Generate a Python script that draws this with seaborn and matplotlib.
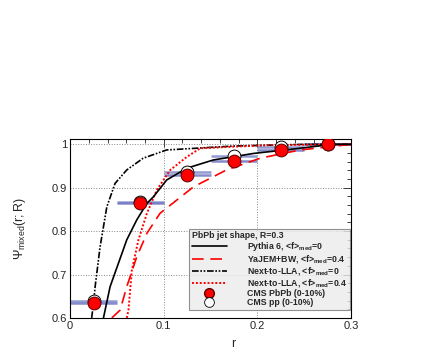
import numpy as np
import pandas as pd
import matplotlib
matplotlib.use("Agg")
import matplotlib.pyplot as plt
import seaborn as sns
from matplotlib.ticker import MultipleLocator
from matplotlib.lines import Line2D

sns.set_style("white")
plt.rcParams["font.family"] = ["Liberation Sans", "DejaVu Sans"]
plt.rcParams["mathtext.fontset"] = "custom"
plt.rcParams["mathtext.rm"] = "Liberation Sans"
plt.rcParams["mathtext.it"] = "Liberation Sans:italic"
plt.rcParams["mathtext.bf"] = "Liberation Sans:bold"

# ---- datos ----
r_bins = [0.025, 0.075, 0.125, 0.175, 0.225, 0.275]
psi_pbpb = [0.635, 0.864, 0.929, 0.962, 0.987, 1.000]
psi_pp = [0.638, 0.866, 0.937, 0.973, 0.993, 1.000]

pythia_r = [0.0356, 0.0427, 0.0516, 0.0605, 0.0712, 0.082, 0.0889, 0.1032, 0.1246, 0.153, 0.196, 0.2456, 0.28, 0.3]
pythia_psi = [0.600, 0.672, 0.726, 0.780, 0.826, 0.864, 0.879, 0.918, 0.945, 0.964, 0.979, 0.991, 1.0, 1.0]

yajem_r = [0.0445, 0.0534, 0.0605, 0.0712, 0.082, 0.096, 0.1317, 0.167, 0.203, 0.2456, 0.3]
yajem_psi = [0.600, 0.618, 0.672, 0.741, 0.795, 0.841, 0.902, 0.941, 0.968, 0.987, 1.0]

nlla0_r = [0.023, 0.025, 0.0267, 0.032, 0.0392, 0.048, 0.0605, 0.078, 0.103, 0.174, 0.25, 0.3]
nlla0_psi = [0.600, 0.634, 0.672, 0.764, 0.856, 0.910, 0.941, 0.968, 0.987, 0.996, 1.0, 1.0]

nlla4_r = [0.0605, 0.0623, 0.0659, 0.073, 0.082, 0.0926, 0.107, 0.1246, 0.139, 0.21, 0.3]
nlla4_psi = [0.600, 0.618, 0.710, 0.780, 0.841, 0.895, 0.941, 0.971, 0.991, 0.998, 1.0]

x_ticks = [0.0, 0.1, 0.2, 0.3]
x_ticklabels = ["0", "0.1", "0.2", "0.3"]
y_ticks = [0.6, 0.7, 0.8, 0.9, 1.0]
y_ticklabels = ["0.6", "0.7", "0.8", "0.9", "1"]

fig = plt.figure(figsize=(4.25, 3.54), dpi=100)
ax = fig.add_axes([0.165, 0.102, 0.661, 0.505])

# bandas horizontales (ancho del bin)
ax.errorbar(r_bins, psi_pp, xerr=0.025, fmt="none", ecolor="#8088cc", elinewidth=1.8, capsize=0, alpha=0.85, zorder=2)
ax.errorbar(r_bins, psi_pbpb, xerr=0.025, fmt="none", ecolor="#7078c4", elinewidth=1.8, capsize=0, alpha=0.85, zorder=2)

curvas = [
    (nlla0_r, nlla0_psi, "black", (0, (4, 1, 1, 1, 1, 1)), 1.2),
    (nlla4_r, nlla4_psi, "red", (0, (1, 1)), 1.4),
    (yajem_r, yajem_psi, "red", (0, (7, 4)), 1.2),
    (pythia_r, pythia_psi, "black", "-", 1.2),
]
for xs, ys, col, ls, lw in curvas:
    df = pd.DataFrame({"r": xs, "psi": ys})
    sns.lineplot(data=df, x="r", y="psi", ax=ax, color=col, linestyle=ls, linewidth=lw, sort=False, zorder=3)

df_pp = pd.DataFrame({"r": r_bins, "psi": psi_pp})
df_pbpb = pd.DataFrame({"r": r_bins, "psi": psi_pbpb})
sns.scatterplot(data=df_pp, x="r", y="psi", ax=ax, s=85, facecolor="white", edgecolor="black", linewidth=0.7, zorder=4)
sns.scatterplot(data=df_pbpb, x="r", y="psi", ax=ax, s=85, color="red", edgecolor="#600000", linewidth=0.7, zorder=5)

ax.set_xlim(0, 0.3)
ax.set_ylim(0.6, 1.012)
ax.set_xticks(x_ticks)
ax.set_xticklabels(x_ticklabels)
ax.set_yticks(y_ticks)
ax.set_yticklabels(y_ticklabels)
ax.xaxis.set_minor_locator(MultipleLocator(0.02))
ax.yaxis.set_minor_locator(MultipleLocator(0.02))
ax.tick_params(which="both", direction="in", top=True, right=True, labelsize=8, pad=2)
ax.tick_params(which="major", length=6, width=0.6)
ax.tick_params(which="minor", length=3, width=0.6)
ax.grid(True, which="major", linestyle=":", color="#888888", linewidth=0.7)
for s in ax.spines.values():
    s.set_color("black")
    s.set_linewidth(0.8)

ax.set_xlabel("r", fontsize=9)
ax.xaxis.set_label_coords(0.58, -0.11)
ax.set_ylabel(r"$\Psi_{\mathrm{mixed}}\mathrm{(r;R)}$", fontsize=9)
ax.yaxis.set_label_coords(-0.15, 0.5)

handles = [
    Line2D([], [], color="black", linestyle="-", linewidth=1.2),
    Line2D([], [], color="red", linestyle=(0, (7, 4)), linewidth=1.2),
    Line2D([], [], color="black", linestyle=(0, (4, 1, 1, 1, 1, 1)), linewidth=1.2),
    Line2D([], [], color="red", linestyle=(0, (1, 1)), linewidth=1.4),
    Line2D([], [], marker="o", color="red", markeredgecolor="#600000", linestyle="none", markersize=7),
    Line2D([], [], marker="o", markerfacecolor="white", markeredgecolor="black", linestyle="none", markersize=7, markeredgewidth=0.6),
]
labels = [
    r"Pythia 6, <f>$_{\mathbf{med}}$=0",
    r"YaJEM+BW, <f>$_{\mathbf{med}}$=0.4",
    r"Next-to-LLA, <f>$_{\mathbf{med}}$=0",
    r"Next-to-LLA, <f>$_{\mathbf{med}}$=0.4",
    "CMS PbPb (0-10%)",
    "CMS pp (0-10%)",
]
leg = ax.legend(handles, labels, title="PbPb jet shape, R=0.3", loc="lower right",
                bbox_to_anchor=(0.995, 0.045), fontsize=6.3, title_fontsize=6.3,
                frameon=True, fancybox=False, facecolor="#ececec", edgecolor="#777777",
                handlelength=4.0, labelspacing=0.0, borderpad=0.3, handletextpad=2.3,
                borderaxespad=0.0, handleheight=0.6)
leg._legend_box.align = "left"
leg.get_title().set_fontweight("bold")
for t in leg.get_texts():
    t.set_fontweight("bold")
leg.get_frame().set_linewidth(0.8)

fig.savefig("out.png", dpi=100)
